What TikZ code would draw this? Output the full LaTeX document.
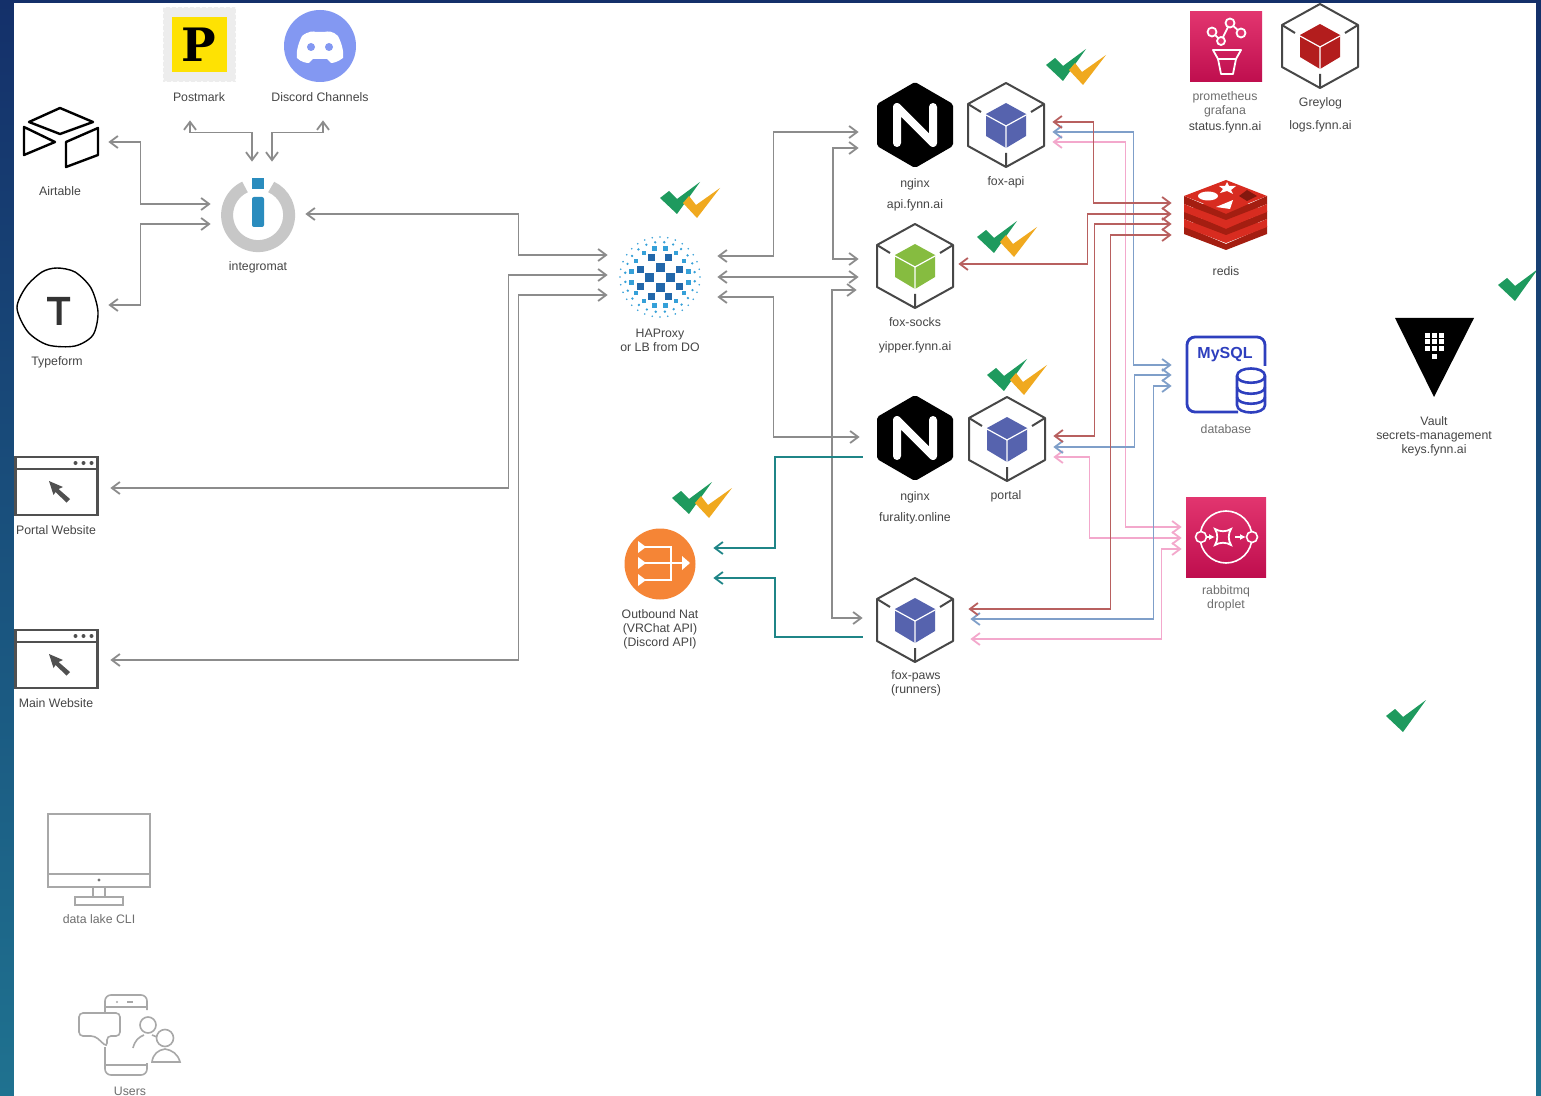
\documentclass[tikz,border=0pt]{standalone}
\usepackage{fontspec}
\setmainfont{Liberation Sans}
\newfontfamily\stampfont{DejaVu Serif}
\usetikzlibrary{calc,positioning,arrows.meta}

\definecolor{graylink}{HTML}{8C8C8C}
\definecolor{teallink}{HTML}{1F8587}
\definecolor{redlink}{HTML}{B8605F}
\definecolor{bluelink}{HTML}{7F9FC9}
\definecolor{pinklink}{HTML}{F3A8CC}
\definecolor{foxblue}{HTML}{5663AE}
\definecolor{foxgreen}{HTML}{86BC40}
\definecolor{logred}{HTML}{B31D1D}
\definecolor{cubeline}{HTML}{474747}
\definecolor{tickgreen}{HTML}{1E9A5E}
\definecolor{tickorange}{HTML}{F0A91F}
\definecolor{labelgray}{HTML}{454545}
\definecolor{palegray}{HTML}{6E6E6E}
\definecolor{sitegray}{HTML}{505050}
\definecolor{outlinegray}{HTML}{A8A8A8}
\definecolor{hablue}{HTML}{2267AA}
\definecolor{hasky}{HTML}{35A0D8}
\definecolor{redisred}{HTML}{D82C20}
\definecolor{redisdark}{HTML}{A41E11}
\definecolor{sqlblue}{HTML}{2E3FBE}
\definecolor{natorange}{HTML}{F58536}
\definecolor{intblue}{HTML}{2A8CBE}
\definecolor{stripetop}{HTML}{14306A}
\definecolor{stripemid}{HTML}{1D3F7C}
\definecolor{stripeend}{HTML}{1F7290}
\definecolor{discordblue}{HTML}{8398F2}
\definecolor{pinktop}{HTML}{E2356F}
\definecolor{pinkend}{HTML}{BF0E4E}

\tikzset{
  iconbox/.style 2 args={inner sep=0pt, minimum width=#1*0.5pt, minimum height=#2*0.5pt},
  icontext/.style={inner sep=0pt, yshift=-0.5pt, align=center, text=labelgray, font=\fontsize{6.15}{7}\selectfont},
  paletext/.style={icontext, text=palegray},
  link/.style={line width=0.9pt, >={Straight Barb[length=4pt,width=6pt]}},
  graywire/.style={link, <->, draw=graylink},
  tealwire/.style={link, ->, draw=teallink},
  redwire/.style={link, <->, draw=redlink},
  bluewire/.style={link, <->, draw=bluelink},
  pinkwire/.style={link, <->, draw=pinklink},
  pics/boxcube/.style={code={
    \draw[cubeline, line width=1pt, line join=round] (0,-42) -- (38,-21) -- (38,21) -- (0,42) -- (-38,21) -- (-38,-21) -- cycle;
    \draw[cubeline, line width=1pt] (-38,-21) -- (-25,-13) (38,-21) -- (25,-13) (0,42) -- (0,28);
    \fill[#1] (0,-22) -- (20,-11) -- (20,11) -- (0,23) -- (-20,11) -- (-20,-11) -- cycle;
    \draw[white, line width=0.6pt] (-20,-10) -- (0,1) -- (20,-10) (0,1) -- (0,23);
  }},
  pics/nginxhex/.style={code={
    \fill[black, rounded corners=1pt] (0,-43) -- (38,-21) -- (38,21) -- (0,43) -- (-38,21) -- (-38,-21) -- cycle;
    \draw[white, line width=4pt, line cap=round, line join=round] (-18,18) -- (-18,-18) -- (18,18) -- (18,-18);
  }},
  pics/greentick/.style={code={
    \fill[tickgreen] (0,16) -- (9,9) -- (17,17) -- (40,0) -- (17,32) -- cycle;
  }},
  pics/orangetick/.style={code={
    \fill[tickorange] (23,21) -- (29,14) -- (36,23) -- (60,6) -- (37,36) -- cycle;
  }},
  pics/doubletick/.style={code={
    \pic {greentick};
    \pic {orangetick};
  }},
  pics/browser/.style={code={
    \draw[sitegray, line width=1.25pt] (-41,-29) rectangle (41,29);
    \draw[sitegray, line width=1pt] (-41,-17) -- (41,-17);
    \foreach \dotx in {19,27,35} {\fill[sitegray] (\dotx,-23) circle (2);}
    \fill[sitegray] (-7.5,-5) -- (6.5,1) -- (2,3) -- (13.5,13) -- (10,16.5) -- (-1,6) -- (-3,9) -- cycle;
  }},
}

\begin{document}
\begin{tikzpicture}[x=0.5pt,y=-0.5pt]
\useasboundingbox (0,0) rectangle (1541,1096);
\shade[top color=stripetop, middle color=stripemid, bottom color=stripeend] (0,0) rectangle (1541,1096);
\fill[white] (14,3) rectangle (1536,1096);

% icon boxes, the links start at their sides
\node[iconbox={150}{150}] (postmark) at (199,45) {};
\node[iconbox={100}{148}] (discord) at (320,46) {};
\node[iconbox={96}{70}] (airtable) at (60,142) {};
\node[iconbox={102}{80}] (typeform) at (57,305) {};
\node[iconbox={94}{104}] (integromat) at (258,214) {};
\node[iconbox={108}{70}] (portalweb) at (56,488) {};
\node[iconbox={108}{70}] (mainweb) at (56,660) {};
\node[iconbox={109}{90}] (haproxy) at (662.5,276) {};
\node[iconbox={112}{90}] (nginxapi) at (915,125) {};
\node[iconbox={92}{90}] (foxapi) at (1006,132) {};
\node[iconbox={99}{90}] (foxsocks) at (908.5,268) {};
\node[iconbox={110}{90}] (nginxfur) at (915,447) {};
\node[iconbox={92}{90}] (portal) at (1007,447) {};
\node[iconbox={105}{90}] (foxpaws) at (915.5,628) {};
\node[iconbox={106}{80}] (natgate) at (660,563) {};
\node[iconbox={108}{80}] (redis) at (1226,219) {};
\node[iconbox={108}{80}] (mysql) at (1226,375) {};
\node[iconbox={88}{80}] (rabbit) at (1226,538) {};

%============ gray links
\draw[graywire] ($(integromat.north)+(-6,0)$) -- ++(0,-29) -| ($(postmark.south)+(-9,0)$);
\draw[graywire] ($(integromat.north)+(14,0)$) -- ++(0,-29) -| ($(discord.south)+(3,0)$);
\draw[graywire] (airtable.east) -- ++(32,0) |- ($(integromat.west)+(0,-10)$);
\draw[graywire] (typeform.east) -- ++(32,0) |- ($(integromat.west)+(0,10)$);
\draw[graywire] (integromat.east) -- ++(213,0) |- ($(haproxy.west)+(0,-21)$);
\draw[graywire] (portalweb.east) -- ++(398,0) |- ($(haproxy.west)+(0,-1)$);
\draw[graywire] (mainweb.east) -- ++(408,0) |- ($(haproxy.west)+(0,19)$);
\draw[graywire] ($(haproxy.east)+(0,-20)$) -- ++(56,0) |- ($(nginxapi.west)+(0,7)$);
\draw[graywire] ($(haproxy.east)+(0,1)$) -- ($(foxsocks.west)+(0,9)$);
\draw[graywire] ($(haproxy.east)+(0,21)$) -- ++(56,0) |- ($(nginxfur.west)+(0,-10)$);
\draw[graywire] ($(nginxapi.west)+(0,23)$) -- ++(-26,0) |- ($(foxsocks.west)+(0,-9)$);
\draw[graywire] ($(foxsocks.west)+(-2,22)$) -- ++(-25,0) |- ($(foxpaws.west)+(0,-10)$);
%============ teal links
\draw[tealwire] ($(nginxfur.west)+(3,10)$) -- ++(-88,0) |- ($(natgate.east)+(0,-15)$);
\draw[tealwire] ($(foxpaws.west)+(0,9)$) -- ++(-88,0) |- ($(natgate.east)+(0,15)$);
%============ pink links
\draw[pinkwire] ($(foxapi.east)+(0,10)$) -- ++(73,0) |- ($(rabbit.west)+(0,-11)$);
\draw[pinkwire] ($(portal.east)+(0,10)$) -- ++(36,0) |- (rabbit.west);
\draw[pinkwire] ($(foxpaws.east)+(2,11)$) -- ++(191,0) |- ($(rabbit.west)+(0,11)$);
%============ blue links
\draw[bluewire] (foxapi.east) -- ++(81,0) |- ($(mysql.west)+(0,-10)$);
\draw[bluewire] (portal.east) -- ++(81,0) |- (mysql.west);
\draw[bluewire] ($(foxpaws.east)+(2,-9)$) -- ++(183,0) |- ($(mysql.west)+(0,11)$);
%============ red links
\draw[redwire] ($(foxapi.east)+(0,-10)$) -- ++(41,0) |- ($(redis.west)+(0,-16)$);
\draw[redwire] ($(foxsocks.east)+(0,-4)$) -- ++(129,0) |- ($(redis.west)+(0,-5)$);
\draw[redwire] ($(portal.east)+(0,-11)$) -- ++(41,0) |- ($(redis.west)+(0,5)$);
\draw[redwire] ($(foxpaws.east)+(0,-19)$) -- ++(142,0) |- ($(redis.west)+(0,16)$);

%============ postmark
\fill[black!7] (163,7) rectangle (236,82);
\draw[white, line width=1.2pt, line cap=round, dash pattern=on 0pt off 3pt] (163,7) rectangle (236,82);
\fill[yellow!85!orange] (172,17) rectangle (227,72);
\node[inner sep=0pt, font=\fontsize{23}{23}\selectfont\stampfont\bfseries] (stampletter) at (199,45) {P};
%============ discord
\fill[discordblue] (320,46) circle (36);
\fill[white] (302,36) .. controls (308,31) and (314,31) .. (316,32) -- (324,32) .. controls (328,31) and (333,31) .. (338,36) .. controls (342,44) and (344,52) .. (343,58) .. controls (338,62) and (333,63) .. (331,63) -- (327,59) -- (313,59) -- (309,63) .. controls (306,63) and (301,62) .. (297,58) .. controls (296,52) and (298,44) .. (302,36) -- cycle;
\fill[discordblue] (311,47) circle (4) (329,47) circle (4);
%============ airtable
\draw[black, line width=1.2pt, line join=round] (60,108) -- (93,122) -- (60,134) -- (29,122) -- cycle;
\draw[black, line width=1.2pt, line join=round] (24,127) -- (55,142) -- (24,155) -- cycle;
\draw[black, line width=1.2pt, line join=round] (66,142) -- (98,128) -- (98,155) -- (66,167) -- cycle;
%============ typeform
\draw[black, line width=0.7pt] plot[smooth cycle] coordinates {(57,268) (75,272) (91,288) (98,312) (93,335) (75,346) (48,345) (28,332) (17,308) (26,287) (42,272)};
\fill[black!80] (47,297) rectangle (70,301.5) (56.5,301.5) rectangle (61.5,325);
%============ integromat
\draw[black!22, line width=6pt] (245,187) arc[start angle=115, end angle=425, radius=15.5pt];
\fill[intblue] (252,178) rectangle (264,189);
\fill[intblue, rounded corners=1pt] (252,197) rectangle (264,227);
%============ websites
\pic at (56.5,486) {browser};
\pic at (56.5,659) {browser};
%============ haproxy
\begin{scope}[shift={(660,277)}]
\foreach \rad/\cnt/\sz/\off in {40/32/0.9/0,35/24/1.3/7} {
  \foreach \step in {1,...,\cnt} {
    \fill[hasky] (\off+\step*360/\cnt:\rad) circle (\sz);
  }
}
\foreach \step in {1,...,16} {
  \fill[hasky] ($(11.25+\step*22.5:29)+(-2.2,-2.2)$) rectangle +(4.4,4.4);
}
\fill[white] (0,0) circle (24);
\foreach \sqx/\sqy in {-9/-19,8/-19,-20/-7,19/-7,-20/10,19/10,-9/20,8/20} {
  \fill[hablue] (\sqx-3.5,\sqy-3.5) rectangle +(7,7);
}
\foreach \sqx/\sqy in {0/-9,-11/1,10/1,0/11} {
  \fill[hablue] (\sqx-4.5,\sqy-4.5) rectangle +(9,9);
}
\end{scope}
%============ nginx and cubes
\pic at (915,125) {nginxhex};
\pic at (915,438) {nginxhex};
\pic at (1006,125) {boxcube=foxblue};
\pic at (915,266) {boxcube=foxgreen};
\pic at (1007,439) {boxcube=foxblue};
\pic at (915,620) {boxcube=foxblue};
\pic at (1320,46) {boxcube=logred};
%============ outbound nat
\fill[natorange] (660,564) circle (35.5);
\draw[white, line width=0.9pt] (645,547) -- (671,547) -- (671,580) -- (645,580) (645,563) -- (686,563);
\fill[white] (638,541) -- (646,547) -- (638,553) -- cycle (638,557) -- (646,563) -- (638,569) -- cycle (638,574) -- (646,580) -- (638,586) -- cycle (682,556) -- (690,563) -- (682,570) -- cycle;
%============ redis
\foreach \lay in {30,15,0} {
  \fill[redisdark] (1184,196+\lay) -- (1226,214+\lay) -- (1267,196+\lay) -- (1267,204+\lay) -- (1226,220+\lay) -- (1184,204+\lay) -- cycle;
  \fill[redisred] (1226,180+\lay) -- (1267,196+\lay) -- (1226,212+\lay) -- (1184,196+\lay) -- cycle;
}
\fill[redisred] (1184,204) -- (1226,222) -- (1267,204) -- (1267,212) -- (1226,228) -- (1184,212) -- cycle;
\fill[redisred] (1184,219) -- (1226,237) -- (1267,219) -- (1267,227) -- (1226,243) -- (1184,227) -- cycle;
\fill[white] (1208,196) ellipse (10 and 4.5);
\fill[white] (1227,182) -- (1229,186) -- (1236,186) -- (1231,190) -- (1233,194) -- (1227,191) -- (1220,193) -- (1223,189) -- (1219,186) -- (1225,186) -- cycle;
\fill[white] (1216,207) -- (1233,200) -- (1230,209) -- cycle;
\fill[redisdark!80!black] (1247,190) -- (1257,196) -- (1247,201) -- (1239,196) -- cycle;
%============ mysql
\draw[sqlblue, line width=1.4pt, rounded corners=4pt] (1238,412) -| (1187,337) -| (1265,366);
\node[inner sep=0pt, text=sqlblue, font=\fontsize{8}{8}\selectfont\bfseries] (sqltext) at (1225,355) {MySQL};
\draw[sqlblue, line width=1.3pt, fill=white] (1237,376) -- (1237,405) .. controls (1237,415) and (1265,415) .. (1265,405) -- (1265,376) .. controls (1265,366) and (1237,366) .. (1237,376) -- cycle;
\draw[sqlblue, line width=1.3pt] (1237,376) .. controls (1237,385) and (1265,385) .. (1265,376);
\draw[sqlblue, line width=1.3pt] (1237,387) .. controls (1237,396) and (1265,396) .. (1265,387);
\draw[sqlblue, line width=1.3pt] (1237,397) .. controls (1237,406) and (1265,406) .. (1265,397);
%============ rabbitmq
\shade[top color=pinktop, bottom color=pinkend] (1186,497) rectangle (1266,577);
\draw[white, line width=0.8pt] (1226,537) circle (26);
\draw[white, line width=0.8pt, fill=pinktop!60!pinkend] (1201,537) circle (5.5) (1252,537) circle (5.5);
\draw[white, line width=0.9pt] (1215,529) .. controls (1220,532) and (1226,532) .. (1231,529) .. controls (1228,534) and (1228,540) .. (1231,545) .. controls (1226,542) and (1220,542) .. (1215,545) .. controls (1218,540) and (1218,534) .. (1215,529) -- cycle;
\draw[white, line width=0.8pt, -{Latex[length=3pt,width=3pt]}] (1207,537) -- (1215,537);
\draw[white, line width=0.8pt, -{Latex[length=3pt,width=3pt]}] (1235,537) -- (1246,537);
%============ prometheus
\shade[top color=pinktop, bottom color=pinkend] (1190,12) rectangle (1262,82);
\draw[white, line width=0.9pt] (1212,32) -- (1221,41) -- (1230,23) -- (1241,33);
\draw[white, line width=0.9pt, fill=pinktop] (1212,32) circle (4.5) (1230,23) circle (4.5) (1221,41) circle (4) (1241,33) circle (4.5);
\draw[white, line width=0.9pt, line join=round] (1213,50) -- (1241,50) -- (1236,59) -- (1218,59) -- cycle;
\draw[white, line width=0.9pt, line join=round] (1218,59) -- (1221,74) -- (1233,74) -- (1236,59);
%============ vault
\fill[black] (1395,318) -- (1474,318) -- (1434,397) -- cycle;
\foreach \gx in {1427,1434,1441} {\foreach \gy in {336,342,349} {\fill[white] (\gx-2.5,\gy-2.5) rectangle +(5,5);}}
\fill[white] (1431.5,354.5) rectangle +(5,5);
%============ monitor
\draw[outlinegray, line width=0.8pt] (48,814) rectangle (150,887) (48,874) -- (150,874) (93,887) -- (93,897) (105,887) -- (105,897) (75,897) rectangle (123,905);
\fill[outlinegray!70!black] (99,880) circle (1.7);
%============ users
\draw[outlinegray, line width=0.8pt, rounded corners=3pt] (105,1012) -- (105,995) -- (147,995) -- (147,1010);
\draw[outlinegray, line width=0.8pt, rounded corners=3pt] (105,1047) -- (105,1075) -- (147,1075) -- (147,1063);
\draw[outlinegray, line width=0.8pt] (105,1007) -- (147,1007) (105,1065) -- (147,1065) (127,1002) -- (133,1002);
\fill[outlinegray] (117,1002) circle (1.2);
\draw[outlinegray, line width=0.8pt, rounded corners=2pt] (95,1036) -- (79,1036) -- (79,1013) -- (120,1013) -- (120,1036) -- (107,1036) -- (107,1047) -- cycle;
\draw[outlinegray, line width=0.8pt] (148,1025) circle (8);
\draw[outlinegray, line width=0.8pt] (133,1048) .. controls (135,1040) and (139,1037) .. (144,1035) (152,1035) -- (157,1037);
\draw[outlinegray, line width=0.8pt] (165,1038) circle (8.5);
\draw[outlinegray, line width=0.8pt] (152,1062) .. controls (153,1054) and (158,1050) .. (165,1049) .. controls (172,1050) and (178,1054) .. (180,1062) -- cycle;
%============ ticks
\pic at (660,182) {doubletick};
\pic at (1046,49) {doubletick};
\pic at (977,221) {doubletick};
\pic at (987,359) {doubletick};
\pic at (672,482) {doubletick};
\begin{scope}
\clip (14,3) rectangle (1536,1096);
\pic at (1498,269) {greentick};
\end{scope}
\pic at (1386,700) {greentick};

%============ labels
\node[icontext] (postmarktext) at (199,96) {Postmark};
\node[icontext] (discordtext) at (320,96) {Discord Channels};
\node[icontext] (airtabletext) at (60,190) {Airtable};
\node[icontext] (typeformtext) at (57,361) {Typeform};
\node[icontext] (integromattext) at (258,266) {integromat};
\node[icontext] (portalwebtext) at (56,529) {Portal Website};
\node[icontext] (mainwebtext) at (56,702) {Main Website};
\node[icontext] (haproxytext) at (660,339) {HAProxy\\or LB from DO};
\node[icontext] (nginxapitext) at (915,193.5) {nginx\\[3.5pt]api.fynn.ai};
\node[icontext] (foxapitext) at (1006,181) {fox-api};
\node[icontext] (foxsockstext) at (915,334) {fox-socks\\[5pt]yipper.fynn.ai};
\node[icontext] (nginxfurtext) at (915,506.5) {nginx\\[3.5pt]furality.online};
\node[icontext] (portaltext) at (1006,495) {portal};
\node[icontext] (foxpawstext) at (916,682.5) {fox-paws\\(runners)};
\node[icontext] (nattext) at (660,628.5) {Outbound Nat\\(VRChat API)\\(Discord API)};
\node[icontext] (redistext) at (1226,270) {redis};
\node[paletext] (mysqltext) at (1226,428) {database};
\node[paletext] (rabbittext) at (1226,597) {rabbitmq\\droplet};
\node[paletext] (promtext) at (1225,111) {prometheus\\grafana\\[1pt]\textcolor{labelgray}{status.fynn.ai}};
\node[icontext] (greylogtext) at (1320.5,113.5) {Greylog\\[4.5pt]logs.fynn.ai};
\node[icontext] (vaulttext) at (1434,435) {Vault\\secrets-management\\keys.fynn.ai};
\node[paletext] (datalaketext) at (99,918) {data lake CLI};
\node[paletext] (userstext) at (130,1090) {Users};
\end{tikzpicture}
\end{document}
